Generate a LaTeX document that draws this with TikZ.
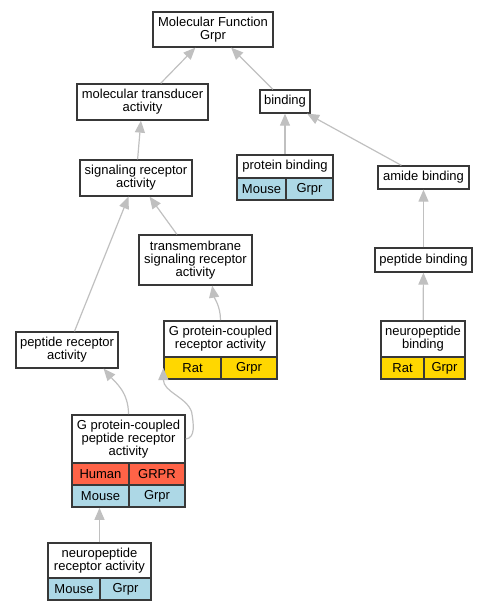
\documentclass[tikz,border=0pt]{standalone}
\usepackage{fontspec}
\setmainfont{Liberation Sans}
\usetikzlibrary{arrows.meta,fit,calc}
\definecolor{edgegray}{HTML}{C0C0C0}
\definecolor{boxline}{HTML}{383838}
\definecolor{human}{HTML}{FF6347}
\definecolor{mouse}{HTML}{ADD8E6}
\definecolor{rat}{HTML}{FFD700}
\tikzset{
  term/.style={draw=boxline, line width=1.3pt, fill=white, inner sep=0pt,
               align=center, font=\fontsize{13}{13}\selectfont},
  record/.style={inner sep=0pt},
  isa/.style={draw=edgegray, line width=1.2pt, -{Triangle[length=12pt,width=10pt]}}
}

\begin{document}
\begin{tikzpicture}[x=1pt,y=-1pt]
    \useasboundingbox (0,0) rectangle (487,611);
    %Plain terms
    \node[term, minimum width=120pt, minimum height=35pt] (mf) at (213,29.5) {Molecular Function\\Grpr};
    \node[term, minimum width=131pt, minimum height=36pt] (mta) at (142.5,102) {molecular transducer\\activity};
    \node[term, minimum width=50pt, minimum height=23pt] (bind) at (285,101.5) {binding};
    \node[term, minimum width=112pt, minimum height=36pt] (sra) at (136,178) {signaling receptor\\activity};
    \node[term, minimum width=91pt, minimum height=23pt] (amide) at (423.5,177.5) {amide binding};
    \node[term, minimum width=113pt, minimum height=50pt] (tsra) at (195.5,260) {transmembrane\\signaling receptor\\activity};
    \node[term, minimum width=97pt, minimum height=24pt] (pepb) at (423.5,260) {peptide binding};
    \node[term, minimum width=102pt, minimum height=36pt] (pra) at (67,350) {peptide receptor\\activity};
    %Record terms: title part
    \node[term, minimum width=96pt, minimum height=23pt] (pbt) at (285,166.5) {protein binding};
    \node[term, minimum width=113pt, minimum height=36pt] (gpcrt) at (220.5,339) {G protein-coupled\\receptor activity};
    \node[term, minimum width=84pt, minimum height=36pt] (npbt) at (423,339) {neuropeptide\\binding};
    \node[term, minimum width=113pt, minimum height=48pt] (gpcrpt) at (128.5,439) {G protein-coupled\\peptide receptor\\activity};
    \node[term, minimum width=103pt, minimum height=35pt] (nprat) at (99.5,560.5) {neuropeptide\\receptor activity};
    %Record terms: species and gene cells
    \foreach \nm/\cx/\cy/\w/\col/\txt in {
        pbMouse/261.5/189/49/mouse/Mouse, pbGrpr/309.5/189/47/mouse/Grpr,
        gpcrRat/192.5/368/57/rat/Rat, gpcrGrpr/249/368/56/rat/Grpr,
        npbRat/402.5/368/43/rat/Rat, npbGrpr/444.5/368/41/rat/Grpr,
        gpcrpHuman/100.5/474/57/human/Human, gpcrpGRPR/157/474/56/human/GRPR,
        gpcrpMouse/100.5/496/57/mouse/Mouse, gpcrpGrpr/157/496/56/mouse/Grpr,
        npraMouse/74/589/52/mouse/Mouse, npraGrpr/125.5/589/51/mouse/Grpr}
      \node[term, fill=\col, minimum width=\w pt, minimum height=22pt] (\nm) at (\cx,\cy) {\txt};
    %Whole records
    \node[record, fit=(pbt)(pbMouse)(pbGrpr)] (pb) {};
    \node[record, fit=(gpcrt)(gpcrRat)(gpcrGrpr)] (gpcr) {};
    \node[record, fit=(npbt)(npbRat)(npbGrpr)] (npb) {};
    \node[record, fit=(gpcrpt)(gpcrpMouse)(gpcrpGrpr)] (gpcrp) {};
    \node[record, fit=(nprat)(npraMouse)(npraGrpr)] (npra) {};
    %is_a edges
    \draw[isa] (mta) -- (mf);
    \draw[isa] (bind) -- (mf);
    \draw[isa] (sra) -- (mta);
    \draw[isa] (pb) -- (bind);
    \draw[isa] (amide) -- (bind);
    \draw[isa] (tsra) -- (sra);
    \draw[isa] (pra) -- (sra);
    \draw[isa] (gpcr.north) .. controls +(0,-14) and +(2,12) .. (tsra.-57);
    \draw[isa] (pepb) -- (amide);
    \draw[isa] (npb) -- (pepb);
    \draw[isa] (gpcrp.north) .. controls +(0,-22) and +(12,14) .. (pra.-27);
    \draw[isa] (gpcrpt.east) .. controls +(10,-1) and +(2,12) .. ++(6,-27)
                             .. controls +(-5,-15) and +(0,24) .. (gpcrRat.west);
    \draw[isa] (nprat.north) -- (nprat.north |- gpcrp.south);
\end{tikzpicture}
\end{document}
